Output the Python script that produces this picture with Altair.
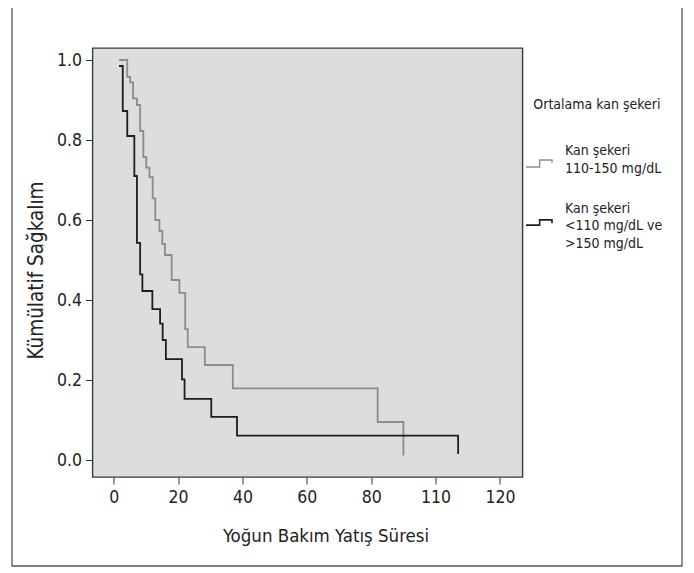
import altair as alt
import pandas as pd

# ---- data ----
group_names = ["Kan şekeri 110-150 mg/dL", "Kan şekeri <110 mg/dL ve >150 mg/dL"]

gray_t = [1.65, 4.2, 5.1, 6.0, 7.2, 8.2, 9.2, 10.1, 11.1, 12.1, 12.9, 14.2, 15.1, 15.9,
          18.0, 20.4, 22.2, 23.0, 28.3, 37.0, 82.0, 90.0]
gray_s = [1.0, 0.958, 0.944, 0.904, 0.8875, 0.8225, 0.757, 0.731, 0.707, 0.654, 0.60,
          0.5725, 0.54, 0.5125, 0.45, 0.418, 0.327, 0.282, 0.2375, 0.179, 0.095, 0.011]

black_t = [1.65, 2.8, 4.2, 6.4, 7.2, 8.2, 8.9, 12.0, 14.4, 15.2, 16.2, 21.2, 22.0,
           30.3, 38.3, 107.0]
black_s = [0.985, 0.8725, 0.81, 0.71, 0.543, 0.464, 0.4225, 0.377, 0.341, 0.30, 0.252,
           0.2017, 0.153, 0.108, 0.061, 0.015]

x_tick_values = [0, 20, 40, 60, 80, 100, 120]
x_tick_labels = ["0", "20", "40", "60", "80", "110", "120"]
y_tick_values = [0.0, 0.2, 0.4, 0.6, 0.8, 1.0]

legend_title = "Ortalama kan şekeri"
legend_label_1 = ["Kan şekeri", "110-150 mg/dL"]
legend_label_2 = ["Kan şekeri", "<110 mg/dL ve", ">150 mg/dL"]

x_title = "Yoğun Bakım Yatış Süresi"
y_title = "Kümülatif Sağkalım"

# ---- build table ----
rows = []
for t, s in zip(gray_t, gray_s):
    rows.append({"t": t, "s": s, "grup": group_names[0]})
for t, s in zip(black_t, black_s):
    rows.append({"t": t, "s": s, "grup": group_names[1]})
df = pd.DataFrame(rows)

FONT = "DejaVu Sans Condensed, Roboto, sans-serif"
GRAY = "#8c8c8c"
BLACK = "#1e1e1e"

label_expr = " : ".join(
    [f"datum.value == {v} ? '{l}'" for v, l in zip(x_tick_values, x_tick_labels)]
) + " : datum.label"

W, H = 430, 429

lines = alt.Chart(df).mark_line(interpolate="step-after", strokeWidth=1.8).encode(
    x=alt.X("t:Q",
            scale=alt.Scale(domain=[-6.6, 127], nice=False, zero=False),
            axis=alt.Axis(values=x_tick_values, labelExpr=label_expr, title=x_title,
                          grid=False, domain=False, tickSize=7, tickColor="#333",
                          labelFontSize=17.5, labelFont=FONT, labelColor="#222",
                          labelPadding=4, titleFont=FONT, titleFontSize=18.5,
                          titleFontWeight="normal", titleColor="#222",
                          titleX=233, titleY=64.7, titleBaseline="alphabetic",
                          titleAlign="center")),
    y=alt.Y("s:Q",
            scale=alt.Scale(domain=[-0.0425, 1.03], nice=False, zero=False),
            axis=alt.Axis(values=y_tick_values, format=".1f", title=y_title,
                          grid=False, domain=False, tickSize=7, tickColor="#333",
                          labelFontSize=17.5, labelFont=FONT, labelColor="#222",
                          labelPadding=4, titleFont=FONT, titleFontSize=20.5,
                          titleFontWeight="normal", titleColor="#222",
                          titleX=-50.5, titleY=222, titleBaseline="alphabetic",
                          titleAlign="center", titleAngle=270)),
    color=alt.Color("grup:N", scale=alt.Scale(domain=group_names, range=[GRAY, BLACK]),
                    legend=None),
    detail="grup:N",
)

frame = alt.Chart().mark_rect(fill=None, stroke="#555", strokeWidth=1.3).encode(
    x=alt.value(-80.5), x2=alt.value(589.5), y=alt.value(-42), y2=alt.value(518)
)

LFS = 14
leg_title = alt.Chart().mark_text(text=legend_title, align="left", baseline="alphabetic",
                                  font=FONT, fontSize=LFS, color="#222").encode(
    x=alt.value(440.8), y=alt.value(61.3))
leg_lab1 = alt.Chart().mark_text(text=legend_label_1, align="left", baseline="alphabetic",
                                 font=FONT, fontSize=LFS, lineHeight=18.3, color="#222").encode(
    x=alt.value(472.5), y=alt.value(107))
leg_lab2 = alt.Chart().mark_text(text=legend_label_2, align="left", baseline="alphabetic",
                                 font=FONT, fontSize=LFS, lineHeight=17.5, color="#222").encode(
    x=alt.value(472.5), y=alt.value(164.7))

step_path = "M-1,0.27H0.05V-0.27H1V-0.05"
leg_sym1 = alt.Chart().mark_point(shape=step_path, size=676, filled=False, stroke=GRAY,
                                  strokeWidth=1.4, opacity=1).encode(
    x=alt.value(446.5), y=alt.value(115.5))
step_path2 = "M-1,0.2H0.05V-0.2H1V0.05"
leg_sym2 = alt.Chart().mark_point(shape=step_path2, size=676, filled=False, stroke=BLACK,
                                  strokeWidth=1.6, opacity=1).encode(
    x=alt.value(446.5), y=alt.value(174.5))

chart = alt.layer(frame, lines, leg_title, leg_lab1, leg_lab2, leg_sym1, leg_sym2).properties(
    width=W, height=H,
    autosize=alt.AutoSizeParams(type="none"),
    padding={"left": 84.5, "top": 40, "right": 163.5, "bottom": 91},
    background="white",
).configure_view(fill="#dcdddf", stroke="#3a3a3a", strokeWidth=1.4)

chart.save("out.html", embed_options={"renderer": "svg", "actions": False})
